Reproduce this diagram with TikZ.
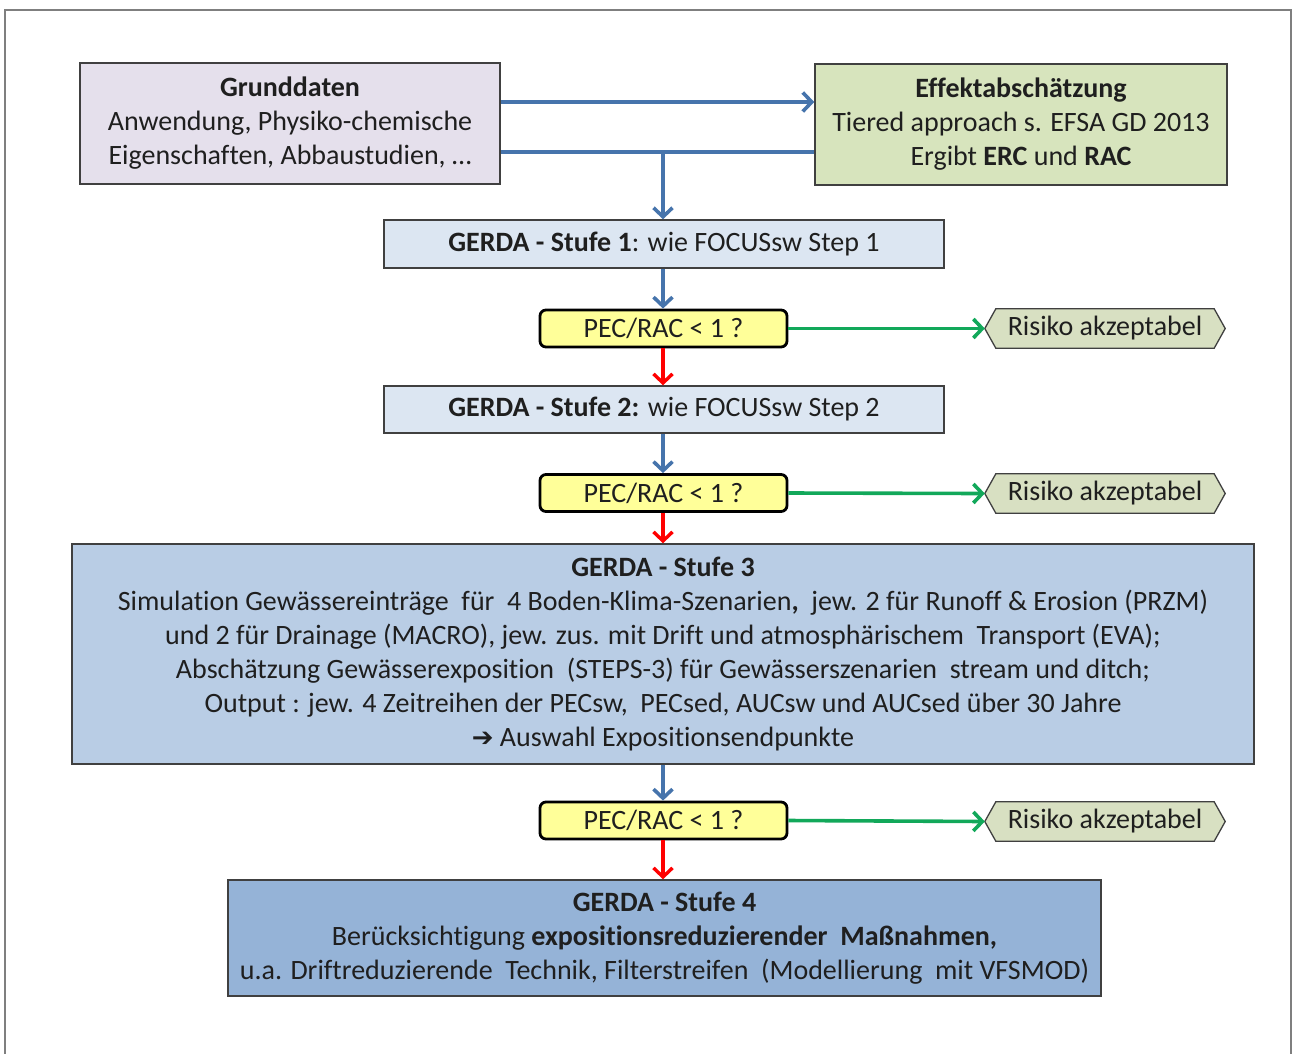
\documentclass[tikz,border=0pt]{standalone}
\usepackage{fontspec}
\setmainfont{Carlito}[Ligatures=NoCommon]
\newfontfamily\symfont{DejaVu Sans}
\usetikzlibrary{arrows.meta,backgrounds}
\definecolor{frameg}{HTML}{7F7F7F}
\definecolor{boxline}{HTML}{404040}
\definecolor{lav}{HTML}{E5E0EC}
\definecolor{olive}{HTML}{D7E4BD}
\definecolor{riskfill}{HTML}{D8E0C2}
\definecolor{pale}{HTML}{DCE6F2}
\definecolor{mid}{HTML}{B9CDE5}
\definecolor{deep}{HTML}{95B3D7}
\definecolor{yel}{HTML}{FFFF99}
\definecolor{arrblue}{HTML}{4674AC}
\definecolor{arrgreen}{HTML}{12A85A}
\definecolor{arrred}{HTML}{FF0000}
\tikzset{
  x=1pt,y=1pt,
  txt/.style={font=\fontsize{28}{34}\selectfont, align=center, text=black!88, inner sep=0pt},
  box/.style={txt, draw=boxline, line width=1.5pt, fill=#1},
  decide/.style={txt, draw=black, line width=2.8pt, fill=yel, rounded corners=6pt,
    minimum width=247, minimum height=37},
  risk/.style={txt, minimum width=240, minimum height=39},
  riskshape/.style={draw=boxline, line width=1.3pt, fill=riskfill},
  tip/.style={-{Straight Barb[length=9pt,width=19pt]}},
  blue/.style={draw=arrblue, line width=3.6pt},
  redl/.style={draw=arrred, line width=3.4pt},
  greenl/.style={draw=arrgreen, line width=3.6pt},
}
\begin{document}
\begin{tikzpicture}
\useasboundingbox (0,0) rectangle (1293,-1053);
% outer frame
\draw[frameg, line width=2.5pt] (5,-1060) -- (5,-10) -- (1291,-10) -- (1291,-1060);

% nodes
\node[box=lav, minimum width=420, minimum height=121] (G) at (290,-123.5)
  {\textbf{Grunddaten}\\Anwendung, Physiko-chemische\\Eigenschaften, Abbaustudien, \dots};
\node[box=olive, minimum width=412, minimum height=121] (E) at (1021,-124.5)
  {\textbf{Effektabschätzung}\\Tiered approach s. EFSA GD 2013\\Ergibt \textbf{ERC} und \textbf{RAC}};
\node[box=pale, minimum width=560, minimum height=48] (S1) at (664,-244)
  {\textbf{GERDA - Stufe 1}: wie FOCUSsw Step 1};
\node[decide] (D1) at (663.5,-328.5) {PEC/RAC < 1 ?};
\node[risk] (R1) at (1105,-328.5) {Risiko akzeptabel};
\node[box=pale, minimum width=560, minimum height=47] (S2) at (664,-409.5)
  {\textbf{GERDA - Stufe 2:} wie FOCUSsw Step 2};
\node[decide] (D2) at (663.5,-493) {PEC/RAC < 1 ?};
\node[risk] (R2) at (1105,-493.5) {Risiko akzeptabel};
\node[box=mid, minimum width=1182, minimum height=220] (S3) at (663,-654)
  {\textbf{GERDA - Stufe 3}\\
   Simulation Gewässereinträge\ \ für\ \ 4 Boden-Klima-Szenarien\textbf{,}\ \ jew. 2 für Runoff \& Erosion (PRZM)\\
   und 2 für Drainage (MACRO), jew. zus. mit Drift und atmosphärischem\ \ Transport (EVA);\\
   Abschätzung Gewässerexposition\ \ (STEPS-3) für Gewässerszenarien\ \ stream und ditch;\\
   Output : jew. 4 Zeitreihen der PECsw,\ \ PECsed, AUCsw und AUCsed über 30 Jahre\\
   {\symfont\fontsize{26}{34}\selectfont ➔} Auswahl Expositionsendpunkte};
\node[decide] (D3) at (663.5,-820.5) {PEC/RAC < 1 ?};
\node[risk] (R3) at (1105,-821.5) {Risiko akzeptabel};
\node[box=deep, minimum width=873, minimum height=116] (S4) at (664.5,-938)
  {\textbf{GERDA - Stufe 4}\\
   Berücksichtigung \textbf{expositionsreduzierender\ \ Maßnahmen,}\\
   u.a. Driftreduzierende\ \ Technik, Filterstreifen\ \ (Modellierung\ \ mit VFSMOD)};

% risk shapes
\begin{scope}[on background layer]
\foreach \r in {R1,R2,R3}{
  \draw[riskshape] (\r.west) -- ([xshift=11]\r.north west) -- ([xshift=-11]\r.north east)
    -- (\r.east) -- ([xshift=-11]\r.south east) -- ([xshift=11]\r.south west) -- cycle;
}
\end{scope}

% connectors
\draw[blue, tip] (G.east |- 0,-102) -- (E.west |- 0,-102);
\draw[blue] (E.west |- 0,-152) -- (G.east |- 0,-152);
\coordinate (j) at (663,-152);
\draw[blue, tip] (j) -- (S1.north -| j);
\draw[blue, tip] (S1.south -| j) -- (D1.north -| j);
\draw[redl, tip] (D1.south -| j) -- (S2.north -| j);
\draw[blue, tip] (S2.south -| j) -- (D2.north -| j);
\draw[redl, tip] (D2.south -| j) -- (S3.north -| j);
\draw[blue, tip] (S3.south -| j) -- (D3.north -| j);
\draw[redl, tip] (D3.south -| j) -- (S4.north -| j);
\draw[greenl, tip] (D1.east) -- (R1.west);
\draw[greenl, tip] (D2.east) -- (R2.west);
\draw[greenl, tip] (D3.east) -- (R3.west);
\end{tikzpicture}
\end{document}
